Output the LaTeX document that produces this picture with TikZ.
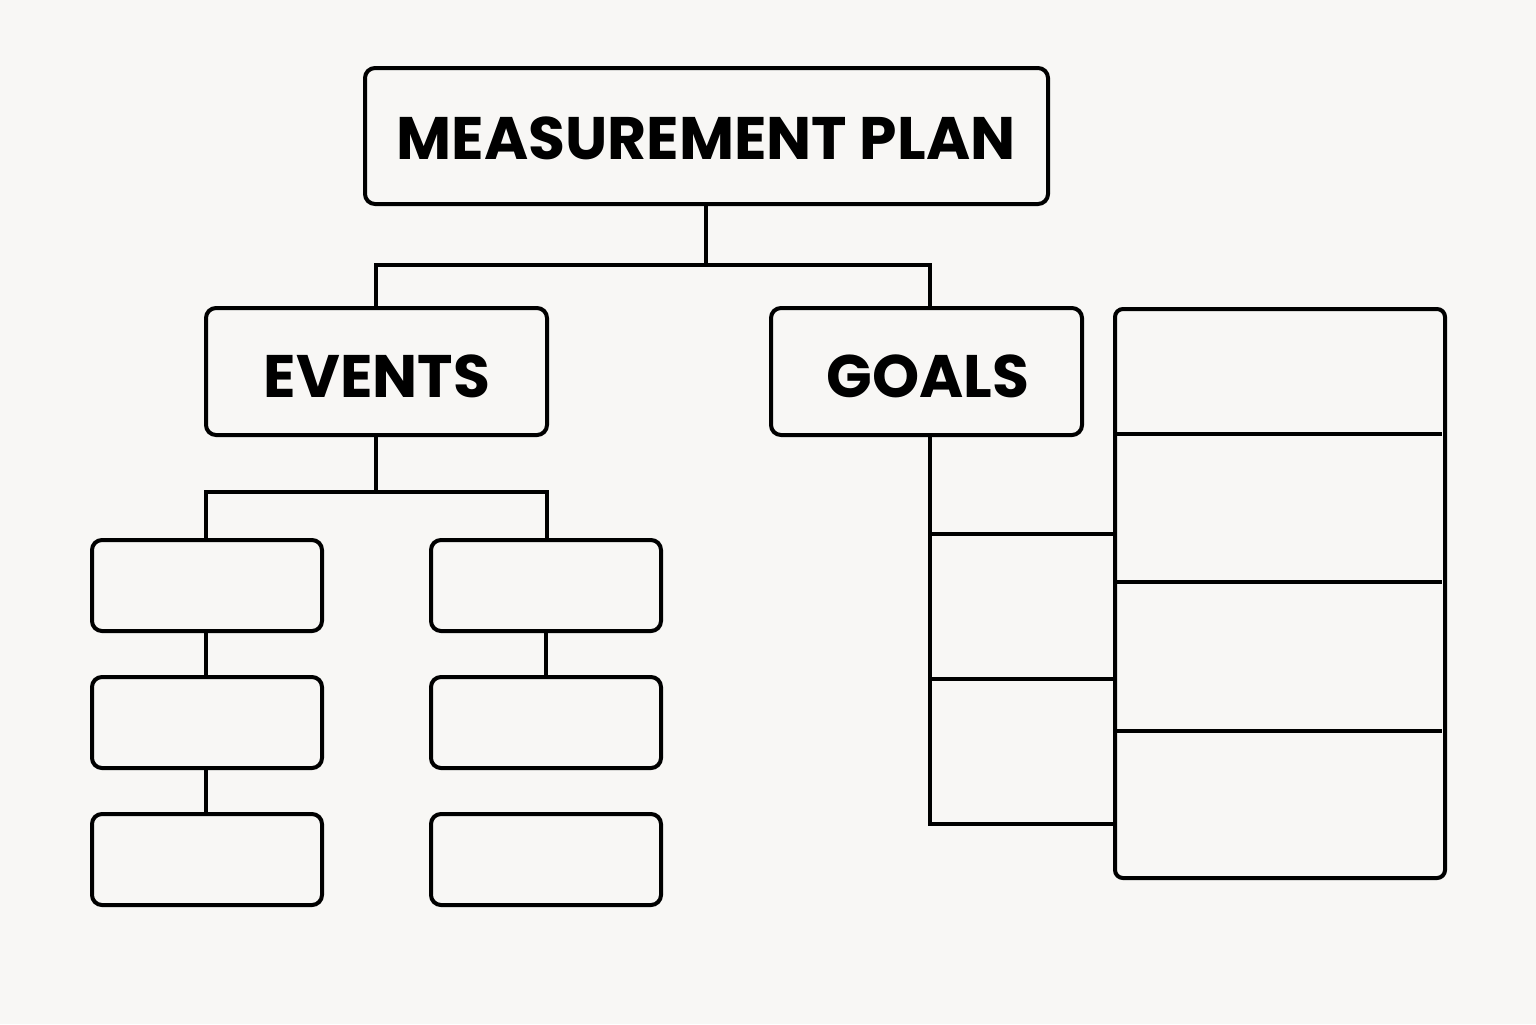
\documentclass[tikz,border=0pt]{standalone}
\usepackage{fontspec}
\setmainfont{Poppins}
\begin{document}
\begin{tikzpicture}[x=0.5pt,y=-0.5pt,line width=2pt,
  box/.style={draw=black,rounded corners=5pt,line width=2pt,inner sep=0pt},
  lbl/.style={font=\fontsize{30}{36}\selectfont\bfseries},
  ln/.style={draw=black,line width=2pt}]
\fill[fill={rgb,255:red,248;green,247;blue,245}] (0,0) rectangle (1536,1024);
\useasboundingbox (0,0) rectangle (1536,1024);
\draw[box] (365,68) rectangle (1048,204);
\node[lbl] (top) at (706,138) {MEASUREMENT PLAN};
\draw[box] (206,308) rectangle (547,435);
\node[lbl] (ev) at (377,376) {EVENTS};
\draw[box] (771,308) rectangle (1082,435);
\node[lbl] (go) at (928,376) {GOALS};
\coordinate (topb) at (706,204);
\coordinate (evt) at (376,308);
\coordinate (got) at (930,308);
\draw[ln] (topb) -- (706,265);
\draw[ln] (evt) -- (376,265) -- (930,265) -- (got);
% right table
\draw[ln,rounded corners=4pt] (1115,309) rectangle (1445,878);
\foreach \y in {434,582,731} \draw[ln] (1115,\y) -- (1442,\y);
\draw[ln] (930,435) -- (930,824) -- (1115,824);
\draw[ln] (930,534) -- (1115,534);
\draw[ln] (930,679) -- (1115,679);
% events tree
\draw[ln] (376,435) -- (376,492);
\draw[ln] (206,540) -- (206,492) -- (547,492) -- (547,540);
\foreach \x/\n in {92/l,431/r}{
  \foreach \y/\m in {540/1,677/2,814/3}{
    \draw[box] (\x,\y) rectangle ++(230,91);
  }
}
\draw[ln] (206,631) -- (206,677);
\draw[ln] (206,768) -- (206,814);
\draw[ln] (546,631) -- (546,677);
\end{tikzpicture}
\end{document}
